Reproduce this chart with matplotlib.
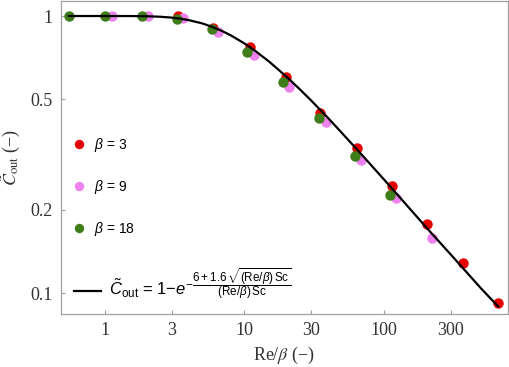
import numpy as np
import matplotlib
matplotlib.use("Agg")
import matplotlib.pyplot as plt
from matplotlib.font_manager import FontProperties

plt.rcParams['mathtext.fontset'] = 'custom'
plt.rcParams['mathtext.rm'] = 'Liberation Sans'
plt.rcParams['mathtext.it'] = 'Liberation Sans:italic'
plt.rcParams['mathtext.bf'] = 'Liberation Sans:bold'

### data (Re/beta, C_out)
re_b3 = [3.34, 5.95, 10.9, 19.8, 34.8, 64.0, 114, 203, 368, 657]
c_b3 = [0.996, 0.905, 0.770, 0.602, 0.448, 0.334, 0.243, 0.177, 0.128, 0.092]

re_b9 = [1.12, 2.03, 3.62, 6.46, 11.7, 20.8, 38.4, 68.4, 122, 221]
c_b9 = [1.0, 1.0, 0.985, 0.876, 0.723, 0.554, 0.414, 0.302, 0.220, 0.158]

re_b18 = [0.552, 1.0, 1.84, 3.28, 5.85, 10.4, 18.9, 34.2, 62.0, 110]
c_b18 = [1.0, 1.0, 1.0, 0.975, 0.898, 0.741, 0.578, 0.428, 0.312, 0.226]

# model curve
re_fit = [0.55, 1, 1.5, 2, 2.5, 3, 3.5, 4, 5, 6, 7, 8, 10, 12, 15, 20, 25, 30,
          40, 50, 70, 100, 150, 200, 300, 500, 660]
c_fit = [1.0, 1.0, 0.9997, 0.998, 0.9938, 0.987, 0.9776, 0.966, 0.940, 0.910,
         0.880, 0.851, 0.796, 0.747, 0.685, 0.604, 0.543, 0.496, 0.427, 0.378,
         0.314, 0.257, 0.204, 0.173, 0.138, 0.1035, 0.0893]

xticks = [1, 3, 10, 30, 100, 300]
xticklabels = ['1', '3', '10', '30', '100', '300']
yticks = [0.1, 0.2, 0.5, 1]
yticklabels = ['0.1', '0.2', '0.5', '1']

col_red = '#e60000'
col_pink = '#ee82ee'
col_green = '#3f7d1b'
grey = '#a0a0a0'

fig = plt.figure(figsize=(5.1, 3.67), dpi=100)
ax = fig.add_axes([0.1196, 0.1444, 0.8764, 0.8529])

ax.plot(re_b3, c_b3, 'o', color=col_red, ms=7.5, mew=0, label=r'$\beta$ = 3', zorder=3)
ax.plot(re_b9, c_b9, 'o', color=col_pink, ms=7.5, mew=0, label=r'$\beta$ = 9', zorder=3)
ax.plot(re_b18, c_b18, 'o', color=col_green, ms=7.5, mew=0, label=r'$\beta$ = 18', zorder=3)
fit_line, = ax.plot(re_fit, c_fit, '-', color='black', lw=1.6, zorder=4)

ax.set_xscale('log')
ax.set_yscale('log')
ax.set_xlim(0.484, 774)
ax.set_ylim(0.084, 1.133)

ax.set_xticks(xticks)
ax.set_xticklabels(xticklabels)
ax.set_yticks(yticks)
ax.set_yticklabels(yticklabels)
ax.minorticks_off()
ax.tick_params(direction='in', length=3, width=0.8, color=grey, pad=6,
               labelsize=13, labelcolor='#333333')
for lab in ax.get_xticklabels() + ax.get_yticklabels():
    lab.set_family('Liberation Serif')
for sp in ax.spines.values():
    sp.set_color(grey)
    sp.set_linewidth(0.9)

ax.set_xlabel(r'Re/$\beta$ (−)', fontsize=13, family='Liberation Serif',
              math_fontfamily='stix', color='#333333', labelpad=4)
ax.set_ylabel(r'$\tilde{C}_{\rm out}$ (−)', fontsize=13, family='Liberation Serif',
              math_fontfamily='stix', color='#333333', labelpad=6)

lprop = FontProperties(family='Liberation Sans', size=10, math_fontfamily='custom')
leg1 = ax.legend(loc='center left', bbox_to_anchor=(0.028, 0.406), frameon=False,
                 prop=lprop, handlelength=0.8, handletextpad=0.68, labelspacing=1.75,
                 borderpad=0, borderaxespad=0, markerscale=0.9)
ax.add_artist(leg1)

# fit formula entry is set a bit larger in the original
fprop = FontProperties(family='Liberation Sans', size=12, math_fontfamily='custom')
formula = (r'$\tilde{C}_{\rm out}$ = 1−$e^{-\dfrac{6+1.6\,\sqrt{(\mathrm{Re}/\beta)\,\mathrm{Sc}}}'
           r'{(\mathrm{Re}/\beta)\,\mathrm{Sc}}}$')
leg2 = ax.legend([fit_line], [formula], loc='center left', bbox_to_anchor=(0.028, 0.095),
                 frameon=False, prop=fprop, handlelength=1.62, handletextpad=0.48,
                 borderpad=0, borderaxespad=0)

fig.savefig('out.png', dpi=100)
